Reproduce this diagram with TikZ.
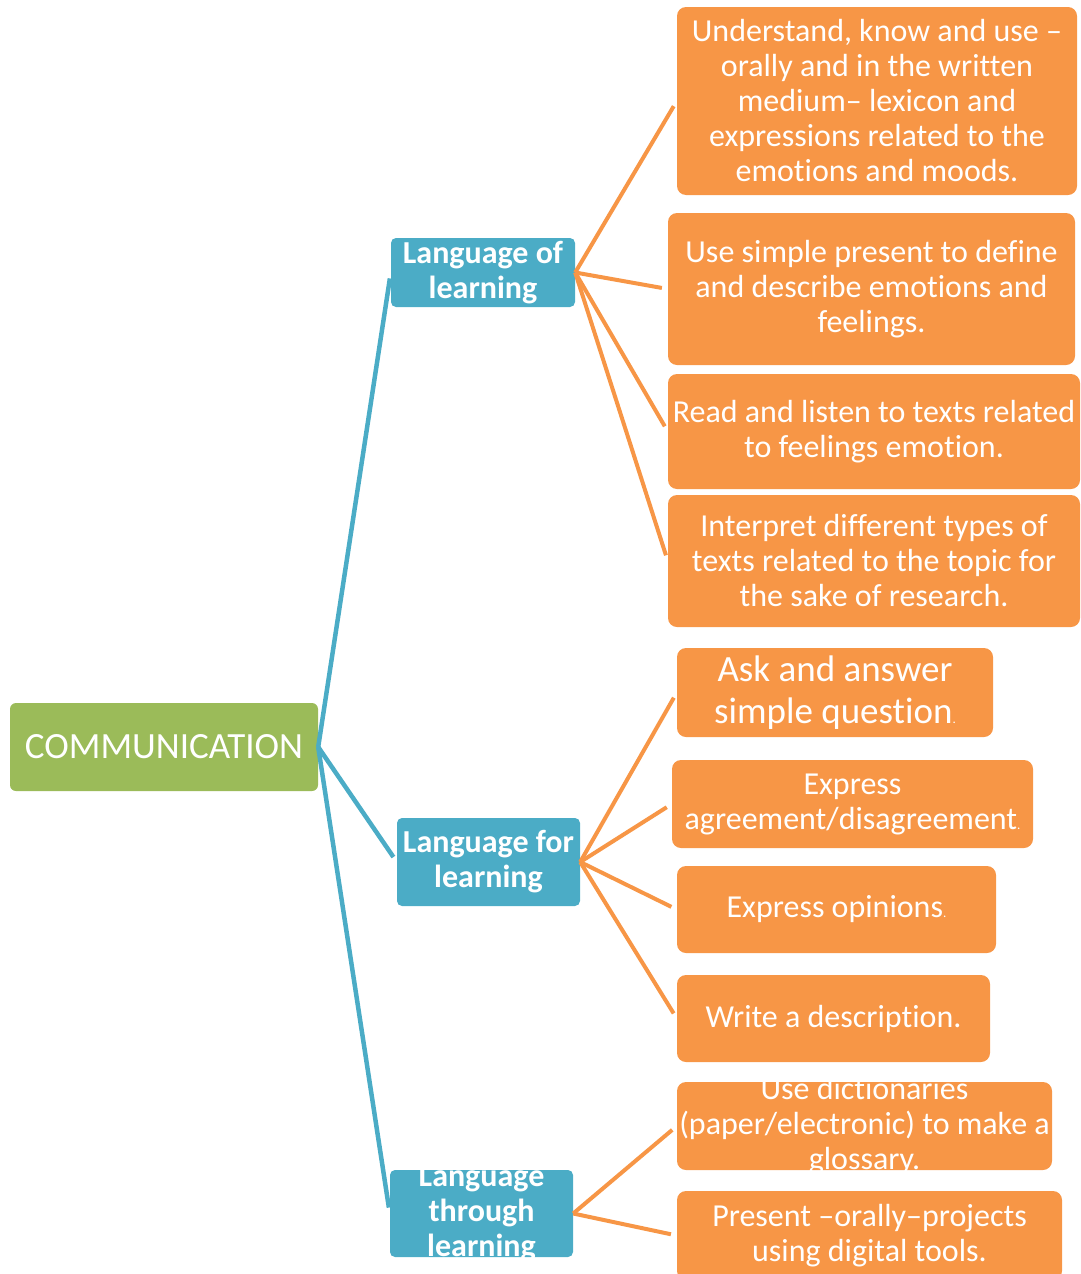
\documentclass[tikz,border=0pt]{standalone}
\usepackage{fontspec}
\setmainfont[Ligatures={TeX,NoCommon}]{Carlito}
\definecolor{rootgreen}{HTML}{9BBB59}
\definecolor{branchblue}{HTML}{4BACC6}
\definecolor{leaforange}{HTML}{F79646}
\newcommand{\mmbox}[3]{\parbox[c][#2pt][c]{#1pt}{\centering #3}}
\newcommand{\tinydot}{{\fontsize{13}{13}\selectfont.}}
\begin{document}
\begin{tikzpicture}[
    x=1pt, y=-1pt,
    every node/.style={text=white, inner sep=0pt},
    root/.style={fill=rootgreen, rounded corners=6pt, font=\fontsize{37}{42}\selectfont},
    branch/.style={fill=branchblue, rounded corners=5pt, font=\bfseries\fontsize{32}{35}\selectfont},
    leaf/.style={fill=leaforange, rounded corners=9pt, font=\fontsize{32}{35}\selectfont},
    trunk/.style={draw=branchblue, line width=4.5pt, shorten >=6pt},
    twig/.style={draw=leaforange, line width=4pt, shorten >=6pt}
]
\useasboundingbox (0,0) rectangle (1081,1274);
\node[root] (comm) at (164,747) {\mmbox{308}{88}{COMMUNICATION}};
\node[branch] (lol) at (483,272.5) {\mmbox{184}{69}{Language of\\learning}};
\node[branch] (lfl) at (488.5,862) {\mmbox{183}{88}{Language for\\learning}};
\node[branch] (ltl) at (481.5,1213.5) {\mmbox{183}{87}{Language\\through\\learning}};
\node[leaf] (u1) at (877,101) {\mmbox{400}{188}{Understand, know and use –\\orally and in the written\\medium– lexicon and\\expressions related to the\\emotions and moods.}};
\node[leaf] (u2) at (871.5,289) {\mmbox{407}{152}{Use simple present to define\\and describe emotions and\\feelings.}};
\node[leaf] (u3) at (874,431.5) {\mmbox{412}{115}{Read and listen to texts related\\to feelings emotion.}};
\node[leaf] (u4) at (874,561) {\mmbox{412}{132}{Interpret different types of\\texts related to the topic for\\the sake of research.}};
\node[leaf, font=\fontsize{37}{42}\selectfont] (u5) at (835,692.5) {\mmbox{316}{89}{Ask and answer\\simple question\tinydot}};
\node[leaf] (u6) at (852.5,804) {\mmbox{361}{88}{Express\\agreement/disagreement\tinydot}};
\node[leaf] (u7) at (836.5,909.5) {\mmbox{319}{87}{Express opinions\tinydot}};
\node[leaf] (u8) at (833.5,1018.5) {\mmbox{313}{87}{Write a description.}};
\node[leaf] (u9) at (864.5,1126) {\mmbox{375}{88}{Use dictionaries\\(paper/electronic) to make a\\glossary.}};
\node[leaf] (u10) at (869.5,1235.5) {\mmbox{385}{89}{Present –orally–projects\\using digital tools.}};
\foreach \b in {lol,lfl,ltl}
    \draw[trunk] (comm.east) -- (\b.west);
\foreach \t in {u1,u2,u3,u4}
    \draw[twig] (lol.east) -- (\t.west);
\foreach \t in {u5,u6,u7,u8}
    \draw[twig] (lfl.east) -- (\t.west);
\foreach \t in {u9,u10}
    \draw[twig] (ltl.east) -- (\t.west);
\end{tikzpicture}
\end{document}
